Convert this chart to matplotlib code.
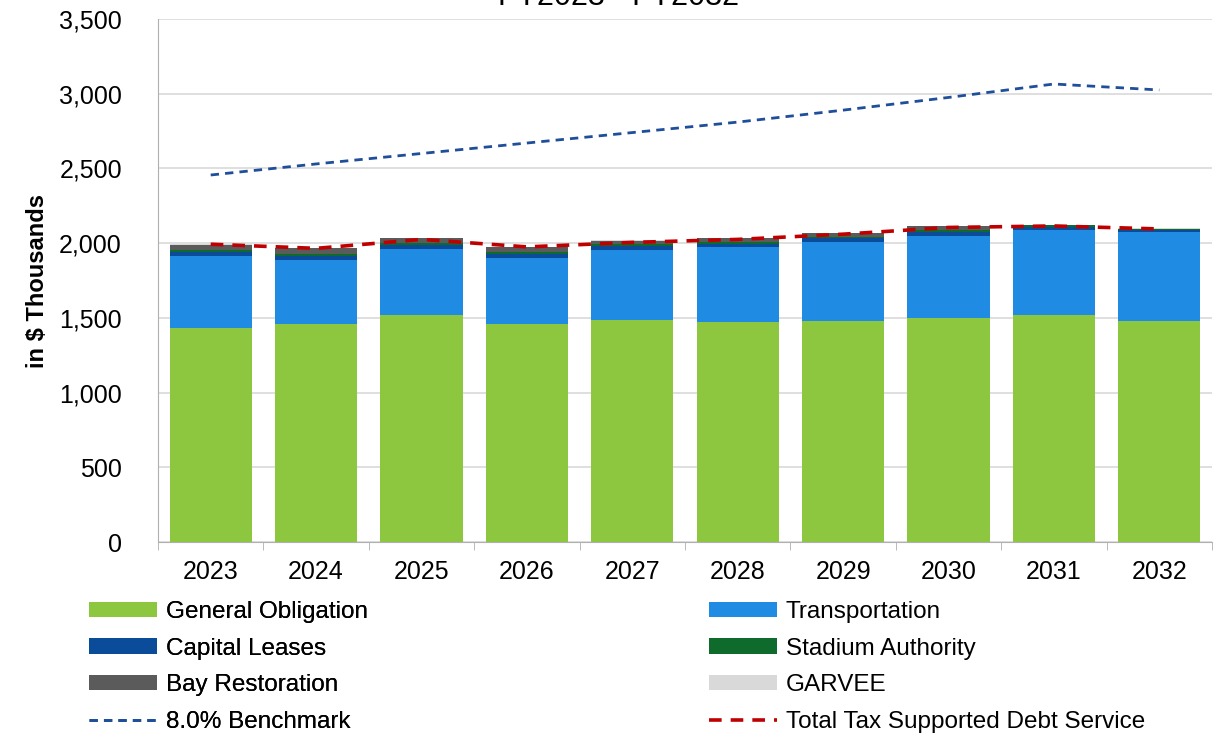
import numpy as np
import matplotlib.pyplot as plt
from matplotlib.ticker import FuncFormatter

plt.rcParams['font.family'] = ['Liberation Sans', 'DejaVu Sans']

years = ['2023', '2024', '2025', '2026', '2027', '2028', '2029', '2030', '2031', '2032']

# $ thousands
general_obligation = [1432, 1459, 1517, 1459, 1488, 1472, 1479, 1499, 1519, 1479]
transportation = [482, 428, 442, 444, 466, 500, 531, 551, 567, 598]
capital_leases = [25, 27, 26, 24, 27, 24, 24, 27, 24, 13]
stadium_authority = [17, 16, 18, 16, 13, 9, 7, 9, 11, 7]
bay_restoration = [34, 35, 29, 31, 22, 29, 27, 29, 0, 0]
garvee = [5, 3, 2, 2, 2, 2, 2, 2, 1, 1]

benchmark = [2456, 2530, 2600, 2670, 2740, 2810, 2890, 2975, 3065, 3025]
total_debt_service = [1993, 1965, 2025, 1975, 2005, 2025, 2060, 2105, 2115, 2095]

series = [
    ('General Obligation', general_obligation, '#8dc63f'),
    ('Transportation', transportation, '#1f8be3'),
    ('Capital Leases', capital_leases, '#0b4c9a'),
    ('Stadium Authority', stadium_authority, '#0e6b2c'),
    ('Bay Restoration', bay_restoration, '#5b5b5b'),
    ('GARVEE', garvee, '#d9d9d9'),
]

fig = plt.figure(figsize=(12.17, 7.33), dpi=100)
ax = fig.add_axes([158 / 1217, 1 - 542 / 733, 1054 / 1217, 523 / 733])

x = np.arange(len(years))
bottom = np.zeros(len(years))
handles = {}
for name, vals, color in series:
    vals = np.array(vals, dtype=float)
    b = ax.bar(x, vals, 0.78, bottom=bottom, color=color, linewidth=0,
               label=name, zorder=3)
    handles[name] = b
    bottom += vals

bench_line, = ax.plot(x, benchmark, color='#1f4e9a', linestyle=(0, (3, 2.2)),
                      linewidth=2, label='8.0% Benchmark', zorder=4)
total_line, = ax.plot(x, total_debt_service, color='#c00000', linestyle=(0, (3.5, 2.5)),
                      linewidth=2.6, label='Total Tax Supported Debt Service', zorder=4)

ax.set_xlim(-0.5, len(years) - 0.5)
ax.set_ylim(0, 3500)
ax.set_yticks(np.arange(0, 3501, 500))
ax.yaxis.set_major_formatter(FuncFormatter(lambda v, p: f'{int(v):,}'))
ax.set_xticks(x)
ax.set_xticklabels(years)
ax.set_xticks(np.arange(-0.5, len(years), 1), minor=True)
ax.tick_params(axis='x', which='major', length=0, labelsize=18, pad=13)
ax.tick_params(axis='x', which='minor', length=6, color='#b0b0b0')
ax.tick_params(axis='y', length=0, labelsize=18, pad=26)
ax.grid(axis='y', color='#d9d9d9', linewidth=1.2, zorder=0)
for side in ['top', 'right']:
    ax.spines[side].set_visible(False)
ax.spines['left'].set_color('#b0b0b0')
ax.spines['bottom'].set_color('#b0b0b0')
ax.set_ylabel('in $ Thousands', fontsize=17, fontweight='bold', labelpad=7)

fig.text(0.508, 1 - 5 / 733, 'FY2023 - FY2032', ha='center', va='baseline', fontsize=22)

legend_kw = dict(loc='upper left', frameon=False, fontsize=17.5, handlelength=2.8,
                 handleheight=0.6, handletextpad=0.35, labelspacing=0.6, borderaxespad=0,
                 borderpad=0)
left_items = [handles['General Obligation'], handles['Capital Leases'],
              handles['Bay Restoration'], bench_line]
left_labels = ['General Obligation', 'Capital Leases', 'Bay Restoration', '8.0% Benchmark']
right_items = [handles['Transportation'], handles['Stadium Authority'],
               handles['GARVEE'], total_line]
right_labels = ['Transportation', 'Stadium Authority', 'GARVEE',
                'Total Tax Supported Debt Service']
leg1 = fig.legend(left_items, left_labels, bbox_to_anchor=(89 / 1217, 1 - 601 / 733), **legend_kw)
fig.add_artist(leg1)
fig.legend(right_items, right_labels, bbox_to_anchor=(709 / 1217, 1 - 601 / 733), **legend_kw)

fig.savefig('out.png', dpi=100)
